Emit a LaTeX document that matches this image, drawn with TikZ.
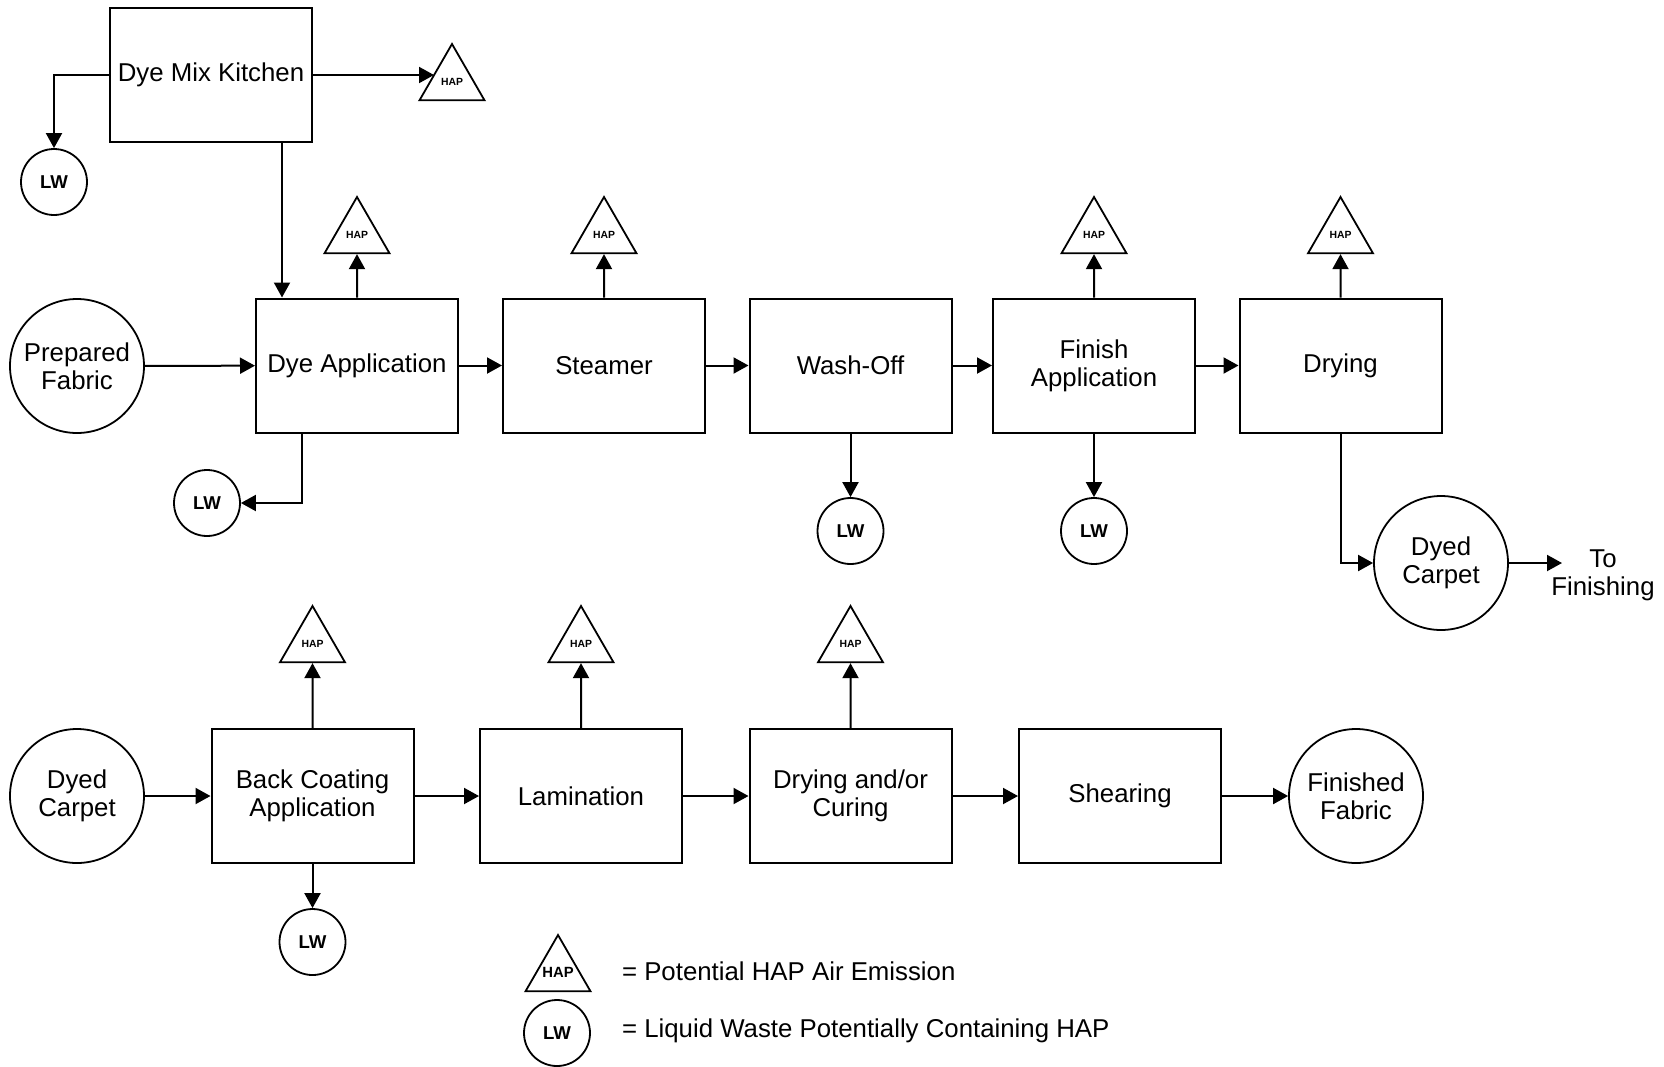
\documentclass[tikz,border=0pt]{standalone}
\usepackage{fontspec}
\setmainfont{Liberation Sans}
\usetikzlibrary{shapes.geometric,arrows.meta}
\begin{document}
\begin{tikzpicture}[x=0.5pt,y=-0.5pt,
  every node/.style={font=\fontsize{12.9}{13.9}\selectfont, align=center},
  proc/.style={draw, line width=1pt, minimum width=101pt, minimum height=67pt, inner sep=0pt},
  stream/.style={draw, circle, line width=0.9pt, minimum size=67pt, inner sep=0pt},
  lw/.style={draw, circle, line width=0.9pt, minimum size=33pt, inner sep=0pt, font=\bfseries\fontsize{9.3}{10}\selectfont},
  hap/.style={draw, regular polygon, regular polygon sides=3, line width=0.9pt, minimum size=37.5pt, inner sep=0pt, font=\bfseries\fontsize{5.2}{6}\selectfont},
  arr/.style={line width=1pt, -{Triangle[length=7.5pt,width=8pt]}},
  ln/.style={line width=1pt}
]
\useasboundingbox (0,0) rectangle (1664,1066);

% ---- Dye mix kitchen
\node[proc] (dmk) at (211,75) {Dye Mix Kitchen};
\node[lw] (dmklw) at (54,182) {LW};
\node[hap] (dmkhap) at (452,81.5) {HAP};
\coordinate (dmkhapL) at ([xshift=-9pt]dmkhap.center);

% ---- Row 1
\node[stream] (pf) at (77,366) {Prepared\\Fabric};
\node[proc] (da) at (357,365.5) {Dye Application};
\node[proc] (st) at (604,365.5) {Steamer};
\node[proc] (wo) at (850.5,365.5) {Wash-Off};
\node[proc] (fa) at (1094,365.5) {Finish\\Application};
\node[proc] (dr) at (1340.5,365.5) {Drying};

\node[hap] (dahap) at (357,234.5) {HAP};
\node[hap] (sthap) at (604,234.5) {HAP};
\node[hap] (fahap) at (1094,234.5) {HAP};
\node[hap] (drhap) at (1340.5,234.5) {HAP};

\node[lw] (dalw) at (207,503) {LW};
\node[lw] (wolw) at (850.5,531) {LW};
\node[lw] (falw) at (1094,531) {LW};

\node[stream] (dc) at (1441,563) {Dyed\\Carpet};
\node (tofin) at (1603,575) {To\\Finishing};
\coordinate (tofinin) at (1562,563);

% ---- Row 2
\node[stream] (dc2) at (77,796) {Dyed\\Carpet};
\node[proc] (bca) at (312.5,796) {Back Coating\\Application};
\node[proc] (lam) at (581,796) {Lamination};
\node[proc] (dac) at (850.5,796) {Drying and/or\\Curing};
\node[proc] (shr) at (1120,796) {Shearing};
\node[stream] (ff) at (1356,796) {Finished\\Fabric};

\node[hap] (bcahap) at (312.5,643.5) {HAP};
\node[hap] (lamhap) at (581,643.5) {HAP};
\node[hap] (dachap) at (850.5,643.5) {HAP};
\node[lw] (bcalw) at (312.5,942) {LW};

% ---- Legend
\node[hap, label={[font=\bfseries\fontsize{7.4}{8}\selectfont, inner sep=0pt]center:HAP}] (leghap) at (558,972.5) {};
\node[lw] (leglw) at (557,1033) {LW};
\node[anchor=west] (leghapt) at (615,971) {= Potential HAP Air Emission};
\node[anchor=west] (leglwt) at (615,1031) {= Liquid Waste Potentially Containing HAP};

% ---- Connectors
\draw[arr] (dmk.west) -| (dmklw.north);
\draw[arr] (dmk.east) -- (dmk.east -| dmkhapL);
\coordinate (dain) at ([xshift=-37.5pt]da.north);
\draw[arr] (dain |- dmk.south) -- (dain);

\draw[arr] (pf) -- (da);
\draw[arr] (da) -- (st);
\draw[arr] (st) -- (wo);
\draw[arr] (wo) -- (fa);
\draw[arr] (fa) -- (dr);

\draw[arr] (da.north) -- (dahap.south);
\draw[arr] (st.north) -- (sthap.south);
\draw[arr] (fa.north) -- (fahap.south);
\draw[arr] (dr.north) -- (drhap.south);

\draw[arr] ([xshift=-27.5pt]da.south) |- (dalw.east);
\draw[arr] (wo.south) -- (wolw.north);
\draw[arr] (fa.south) -- (falw.north);

\draw[arr] (dr.south) |- (dc.west);
\draw[arr] (dc.east) -- (tofinin);

\draw[arr] (dc2) -- (bca);
\draw[arr] (bca) -- (lam);
\draw[arr] (lam) -- (dac);
\draw[arr] (dac) -- (shr);
\draw[arr] (shr) -- (ff);

\draw[arr] (bca.north) -- (bcahap.south);
\draw[arr] (lam.north) -- (lamhap.south);
\draw[arr] (dac.north) -- (dachap.south);
\draw[arr] (bca.south) -- (bcalw.north);
\end{tikzpicture}
\end{document}
